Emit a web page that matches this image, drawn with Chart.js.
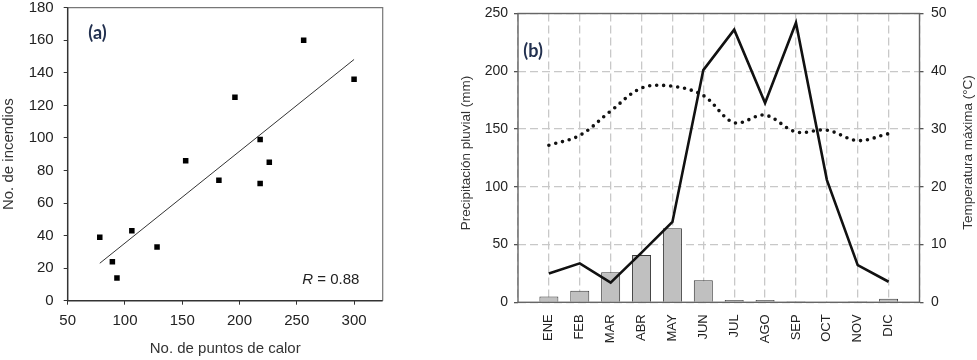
<!DOCTYPE html>
<html><head><meta charset="utf-8">
<script src="https://cdn.jsdelivr.net/npm/chart.js@4.4.1/dist/chart.umd.min.js"></script>
<style>
html,body{margin:0;padding:0;background:#fff;width:977px;height:360px;overflow:hidden;}
#wa{position:absolute;left:0;top:0;width:430px;height:360px;}
#wb{position:absolute;left:440px;top:0;width:537px;height:360px;}
canvas{display:block;}
</style></head><body>
<div id="wa"><canvas id="ca" width="430" height="360"></canvas></div>
<div id="wb"><canvas id="cb" width="537" height="360"></canvas></div>
<script>
// ---- Panel (a) data ----
const hotspots = [78, 89, 93, 106, 128, 153, 182, 196, 218, 218, 226, 256, 300];
const fires    = [39, 24, 14, 43, 33, 86, 74, 125, 99, 72, 85, 160, 136];
const fitX = [78, 300];
const fitY = [23, 148.2];
const xTicksA = [50, 100, 150, 200, 250, 300];
const yTicksA = [0, 20, 40, 60, 80, 100, 120, 140, 160, 180];

// ---- Panel (b) data ----
const months  = ['ENE','FEB','MAR','ABR','MAY','JUN','JUL','AGO','SEP','OCT','NOV','DIC'];
const barVals = [5, 10, 26, 41, 64, 19, 2, 2, 1, 0.4, 1, 3];
const rain    = [25, 33.7, 17, 43, 69.6, 201, 236, 172.5, 242, 106, 32.2, 17.8];
const tmax    = [27.2, 28.9, 33.1, 37.1, 37.4, 35.8, 31.1, 32.4, 29.5, 29.8, 28.0, 29.2];
const leftTicksB  = [0, 50, 100, 150, 200, 250];
const rightTicksB = [0, 10, 20, 30, 40, 50];

const FONT = "'Liberation Sans', Arial, Helvetica, sans-serif";
const setTicks = arr => s => { s.ticks = arr.map(v => ({value: v})); };

// ---------- Chart (a) ----------
const decoA = {
  id: 'decoA',
  afterDatasetsDraw(chart) {
    const {ctx, chartArea: a} = chart;
    ctx.save();
    ctx.strokeStyle = '#777'; ctx.lineWidth = 1.2;
    ctx.beginPath(); ctx.moveTo(a.left, a.top); ctx.lineTo(a.right, a.top); ctx.lineTo(a.right, a.bottom); ctx.stroke();
    ctx.strokeStyle = '#333'; ctx.lineWidth = 1.5;
    ctx.beginPath(); ctx.moveTo(a.left, a.top); ctx.lineTo(a.left, a.bottom); ctx.lineTo(a.right, a.bottom); ctx.stroke();
    ctx.fillStyle = '#22304f';
    ctx.font = "bold 18px Lato, 'Open Sans', sans-serif";
    ctx.textBaseline = 'middle'; ctx.textAlign = 'left';
    ctx.fillText('(a)', a.left + 20.6, a.top + 25.6);
    ctx.fillStyle = '#222'; ctx.textBaseline = 'alphabetic';
    ctx.font = 'italic 15px ' + FONT;
    const x0 = a.right - 80.4, y0 = a.bottom - 16.4;
    ctx.fillText('R', x0, y0);
    const w = ctx.measureText('R').width;
    ctx.font = '15px ' + FONT;
    ctx.fillText(' = 0.88', x0 + w, y0);
    ctx.restore();
  }
};

new Chart(document.getElementById('ca'), {
  type: 'scatter',
  data: {
    datasets: [
      { data: hotspots.map((x, i) => ({x: x, y: fires[i]})), pointStyle: 'rect', pointRadius: 3.9, pointHoverRadius: 3.9,
        backgroundColor: '#000', borderColor: '#000', borderWidth: 0, order: 1 },
      { type: 'line', data: fitX.map((x, i) => ({x: x, y: fitY[i]})), borderColor: '#333', borderWidth: 1,
        pointRadius: 0, fill: false, tension: 0, order: 2 }
    ]
  },
  options: {
    responsive: false, animation: false, events: [],
    layout: { padding: { left: 0, top: 7.7, right: 430 - 382.7, bottom: 0 } },
    plugins: { legend: { display: false }, tooltip: { enabled: false } },
    scales: {
      x: {
        type: 'linear', min: 50, max: 325,
        afterBuildTicks: setTicks(xTicksA),
        afterFit: s => { s.height = 59.3; },
        grid: { drawOnChartArea: false, tickLength: 4, tickColor: '#333', tickWidth: 1, tickBorderDash: [] },
        border: { display: false },
        ticks: { font: { family: FONT, size: 15 }, color: '#222', padding: 7, maxRotation: 0 },
        title: { display: true, text: 'No. de puntos de calor', font: { family: FONT, size: 15 }, color: '#333', padding: { top: 0, bottom: 2 } }
      },
      y: {
        min: 0, max: 180,
        afterBuildTicks: setTicks(yTicksA),
        afterFit: s => { s.width = 67.7; s.paddingTop = 0; s.paddingBottom = 0; },
        grid: { drawOnChartArea: false, tickLength: 4, tickColor: '#333', tickWidth: 1, tickBorderDash: [] },
        border: { display: false },
        ticks: { font: { family: FONT, size: 15, lineHeight: 1 }, color: '#222', padding: 10 },
        title: { display: true, text: 'No. de incendios', font: { family: FONT, size: 15 }, color: '#333', padding: { top: 0, bottom: 0 } }
      }
    }
  },
  plugins: [decoA]
});

// ---------- Chart (b) ----------
const decoB = {
  id: 'decoB',
  afterDatasetsDraw(chart) {
    const {ctx, chartArea: a} = chart;
    ctx.save();
    ctx.strokeStyle = '#666'; ctx.lineWidth = 1.4;
    ctx.strokeRect(a.left, a.top, a.right - a.left, a.bottom - a.top);
    ctx.fillStyle = '#22304f';
    ctx.font = "bold 18px Lato, 'Open Sans', sans-serif";
    ctx.textBaseline = 'middle'; ctx.textAlign = 'left';
    ctx.fillText('(b)', a.left + 5.3, a.top + 37.5);
    ctx.fillStyle = '#333';
    ctx.font = '13.5px ' + FONT;
    ctx.textAlign = 'center';
    ctx.save(); ctx.translate(a.left - 51.5, 153); ctx.rotate(-Math.PI / 2);
    ctx.fillText('Precipitación pluvial (mm)', 0, 0); ctx.restore();
    ctx.save(); ctx.translate(a.right + 49, 152.5); ctx.rotate(-Math.PI / 2);
    ctx.fillText('Temperatura máxima (°C)', 0, 0); ctx.restore();
    ctx.restore();
  }
};

const padLabels = [''].concat(months, ['']);
const pad = arr => [null].concat(arr, [null]);
const gridB = { color: '#c8c8c8', lineWidth: 1.3, tickLength: 4, tickColor: '#555', tickWidth: 1.3, tickBorderDash: [] };

new Chart(document.getElementById('cb'), {
  type: 'bar',
  data: {
    labels: padLabels,
    datasets: [
      { type: 'line', data: pad(rain), borderColor: '#111', borderWidth: 2.6, pointRadius: 0, tension: 0,
        yAxisID: 'y', order: 1, fill: false },
      { type: 'line', data: pad(tmax), borderColor: '#111', borderWidth: 3.6, borderDash: [0, 7], borderCapStyle: 'round',
        pointRadius: 0, tension: 0.35, yAxisID: 'y1', order: 2, fill: false },
      { type: 'bar', data: pad(barVals), backgroundColor: '#c0c0c0', borderColor: '#3a3a3a', borderWidth: 1,
        categoryPercentage: 1, barPercentage: 0.615, yAxisID: 'y', order: 3 }
    ]
  },
  options: {
    responsive: false, animation: false, events: [],
    layout: { padding: { left: 0, top: 13.5, right: 0, bottom: 0 } },
    plugins: { legend: { display: false }, tooltip: { enabled: false } },
    scales: {
      x: {
        type: 'category', offset: false,
        afterFit: s => { s.height = 57.7; },
        grid: { offset: false, drawTicks: false, color: '#c8c8c8', lineWidth: 1.3 },
        border: { display: false, dash: [8, 4] },
        ticks: { autoSkip: false, minRotation: 90, maxRotation: 90, padding: 12, font: { family: FONT, size: 13 }, color: '#222' }
      },
      y: {
        position: 'left', min: 0, max: 250,
        afterBuildTicks: setTicks(leftTicksB),
        afterFit: s => { s.width = 78; s.paddingTop = 0; s.paddingBottom = 0; },
        grid: gridB,
        border: { display: false, dash: [8, 4] },
        ticks: { font: { family: FONT, size: 14, lineHeight: 1 }, color: '#222', padding: 6 }
      },
      y1: {
        position: 'right', min: 0, max: 50,
        afterBuildTicks: setTicks(rightTicksB),
        afterFit: s => { s.width = 57.5; s.paddingTop = 0; s.paddingBottom = 0; },
        grid: Object.assign({}, gridB, { drawOnChartArea: false }),
        border: { display: false },
        ticks: { font: { family: FONT, size: 14, lineHeight: 1 }, color: '#222', padding: 7.5 }
      }
    }
  },
  plugins: [decoB]
});
</script>
</body></html>
